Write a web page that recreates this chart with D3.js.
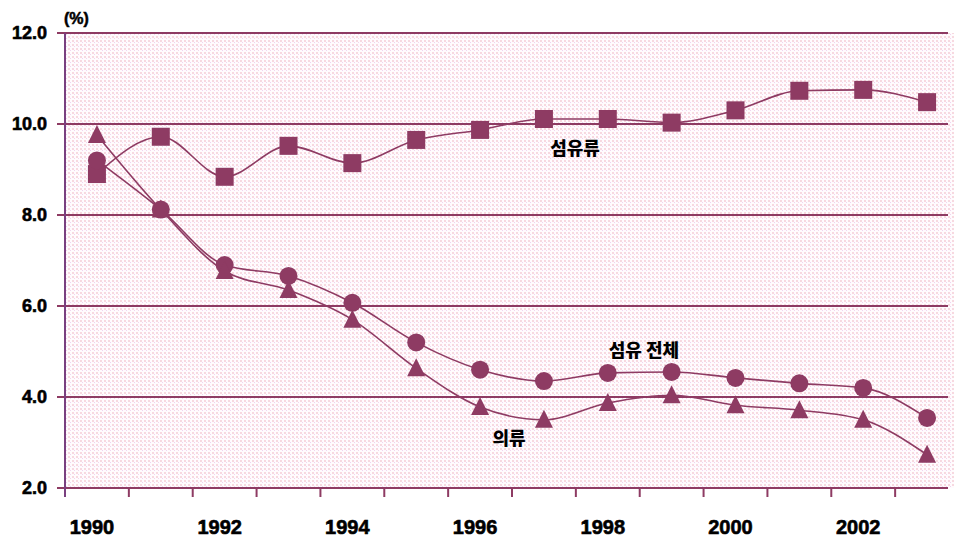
<!DOCTYPE html>
<html><head><meta charset="utf-8">
<script src="https://cdn.jsdelivr.net/npm/d3@7"></script>
<style>body{margin:0;background:#fff;}svg{display:block;}</style>
</head><body>
<svg id="c" width="954" height="544"></svg>
<script>
const years = [1990,1991,1992,1993,1994,1995,1996,1997,1998,1999,2000,2001,2002,2003];
const tickLabels = ["1990","1992","1994","1996","1998","2000","2002"];
const textiles = [8.9,9.72,8.84,9.52,9.14,9.65,9.87,10.11,10.11,10.03,10.3,10.73,10.75,10.48];
const total = [9.2,8.12,6.9,6.66,6.07,5.2,4.6,4.35,4.53,4.55,4.42,4.3,4.2,3.54];
const clothing = [9.76,8.12,6.77,6.35,5.7,4.63,3.78,3.5,3.87,4.04,3.82,3.71,3.5,2.73];
const yTicks = [2,4,6,8,10,12];
const seriesNames = ["섬유류","섬유 전체","의류"];

(function(){
const svg = d3.select("#c");
const col = "#8e3b63";
const pL = 65, pR = 948, pT = 33, pB = 488;
const x = d3.scaleBand().domain(years).range([pL, 959]).padding(0);
const y = d3.scaleLinear().domain([2,12]).range([pB, pT]);

const defs = svg.append("defs");
const pat = defs.append("pattern").attr("id","dots").attr("width",4).attr("height",4).attr("patternUnits","userSpaceOnUse");
pat.append("rect").attr("width",4).attr("height",4).attr("fill","#fffbfd");
pat.append("rect").attr("x",0).attr("y",0).attr("width",2).attr("height",2).attr("fill","#f7d9e0");
pat.append("rect").attr("x",2).attr("y",2).attr("width",1).attr("height",1).attr("fill","#f0d4f0");

svg.append("rect").attr("x",pL).attr("y",pT).attr("width",954-pL).attr("height",pB-pT).attr("fill","url(#dots)");

svg.append("g").selectAll("line").data(yTicks).join("line")
  .attr("x1",57).attr("x2",pR).attr("y1",d=>y(d)).attr("y2",d=>y(d))
  .attr("stroke",col).attr("stroke-width",2);

svg.append("line").attr("x1",pL).attr("x2",pL).attr("y1",pT).attr("y2",pB+9)
  .attr("stroke","#7a4080").attr("stroke-width",2);

const bounds = years.map(d=>x(d)).slice(1);
svg.append("g").selectAll("line").data(bounds).join("line")
  .attr("x1",d=>d).attr("x2",d=>d).attr("y1",pB).attr("y2",pB+9)
  .attr("stroke",col).attr("stroke-width",2);

svg.append("g").selectAll("text").data(yTicks).join("text")
  .attr("x",47).attr("y",d=>y(d)).attr("dy","0.36em").attr("text-anchor","end")
  .attr("font-family","Liberation Sans, Arial, sans-serif").attr("font-weight","bold").attr("font-size",18)
  .attr("stroke","#000").attr("stroke-width",0.6)
  .text(d=>d.toFixed(1));
svg.append("text").attr("x",64).attr("y",24).attr("font-family","Liberation Sans, Arial, sans-serif")
  .attr("font-weight","bold").attr("font-size",16).attr("stroke","#000").attr("stroke-width",0.5).text("(%)");

svg.append("g").selectAll("text").data(tickLabels).join("text")
  .attr("x",d=>x(+d)+x.bandwidth()/2-5).attr("y",534).attr("text-anchor","middle")
  .attr("font-family","Liberation Sans, Arial, sans-serif").attr("font-weight","bold").attr("font-size",20)
  .attr("stroke","#000").attr("stroke-width",0.6)
  .text(d=>d);

const cx = d=>x(d)+x.bandwidth()/2;
const line = d3.line().x((d,i)=>cx(years[i])).y(d=>y(d)).curve(d3.curveMonotoneX);
[textiles,total,clothing].forEach(s=>{
  svg.append("path").attr("d",line(s)).attr("fill","none").attr("stroke",col).attr("stroke-width",1.6);
});

svg.append("g").selectAll("rect").data(textiles).join("rect")
  .attr("x",(d,i)=>cx(years[i])-9).attr("y",d=>y(d)-9).attr("width",18).attr("height",18).attr("fill",col);
svg.append("g").selectAll("circle").data(total).join("circle")
  .attr("cx",(d,i)=>cx(years[i])).attr("cy",d=>y(d)).attr("r",9).attr("fill",col);
svg.append("g").selectAll("path").data(clothing).join("path")
  .attr("d",(d,i)=>{const X=cx(years[i]),Y=y(d);return `M${X},${Y-10}L${X+9},${Y+8}L${X-9},${Y+8}Z`;})
  .attr("fill",col);

const ann = [[seriesNames[0],575,155],[seriesNames[1],644,357],[seriesNames[2],509,445]];
svg.append("g").selectAll("text").data(ann).join("text")
  .attr("x",d=>d[1]).attr("y",d=>d[2]).attr("text-anchor","middle")
  .attr("font-family","Noto Sans CJK KR, sans-serif").attr("font-weight",900).attr("font-size",18)
  .text(d=>d[0]);
})();
</script>
</body></html>
